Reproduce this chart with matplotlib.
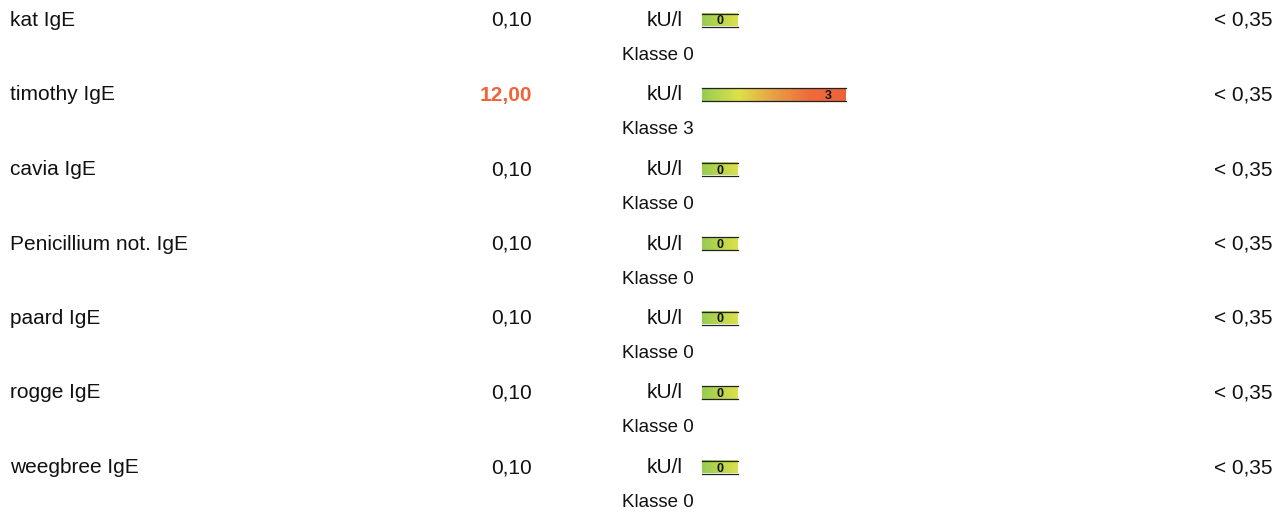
import matplotlib.pyplot as plt
import numpy as np
from matplotlib.colors import LinearSegmentedColormap

names = ["kat IgE", "timothy IgE", "cavia IgE", "Penicillium not. IgE",
         "paard IgE", "rogge IgE", "weegbree IgE"]
values = ["0,10", "12,00", "0,10", "0,10", "0,10", "0,10", "0,10"]
classes = [0, 3, 0, 0, 0, 0, 0]
unit = "kU/l"
ref = "< 0,35"

plt.rcParams['font.family'] = ['Liberation Sans', 'DejaVu Sans']

fig = plt.figure(figsize=(12.85, 5.15), dpi=100)
ax = fig.add_axes([0, 0, 1, 1])
ax.set_xlim(0, 1285)
ax.set_ylim(515, 0)
ax.axis('off')

# class scale colours: green -> yellow -> orange -> red
cmap = LinearSegmentedColormap.from_list(
    'klasse', [(0, '#97cc52'), (0.25, '#dde14a'), (0.5, '#e8a045'),
               (0.75, '#ee6b3c'), (1, '#ee6239')])
seg = 36          # px per class
bar_x0 = 702
row_h = 74.5
top = 19
fs = 15

for i, (n, v, k) in enumerate(zip(names, values, classes)):
    y = top + i * row_h
    ty = y + 1.5
    ax.text(10, ty, n, fontsize=fs, va='center', ha='left', color='#111111')
    if k > 0:
        ax.text(532, ty, v, fontsize=fs, va='center', ha='right',
                color='#f0643a', fontweight='bold')
    else:
        ax.text(532, ty, v, fontsize=fs, va='center', ha='right', color='#111111')
    ax.text(683, ty, unit, fontsize=fs, va='center', ha='right', color='#111111')
    ax.text(658, y + 36.5, "Klasse %d" % k, fontsize=13.5, va='center',
            ha='center', color='#111111')
    ax.text(1273, ty, ref, fontsize=fs, va='center', ha='right', color='#111111')

    # gradient bar
    x1 = bar_x0 + (k + 1) * seg
    grad = np.linspace(0, (k + 1) / 4.0, 200).reshape(1, -1)
    ax.imshow(grad, cmap=cmap, vmin=0, vmax=1, aspect='auto',
              extent=(bar_x0, x1, y + 7.5, y - 5.5), interpolation='bilinear')
    ax.plot([bar_x0, x1], [y - 5.5, y - 5.5], color='#222222', lw=0.9)
    ax.plot([bar_x0, x1], [y + 7.5, y + 7.5], color='#222222', lw=0.9)
    ax.text(x1 - seg / 2, y + 2.5, str(k), fontsize=9, fontweight='bold',
            va='center', ha='center', color='#111111')

ax.set_xlim(0, 1285)
ax.set_ylim(515, 0)
fig.savefig('out.png', dpi=100)
